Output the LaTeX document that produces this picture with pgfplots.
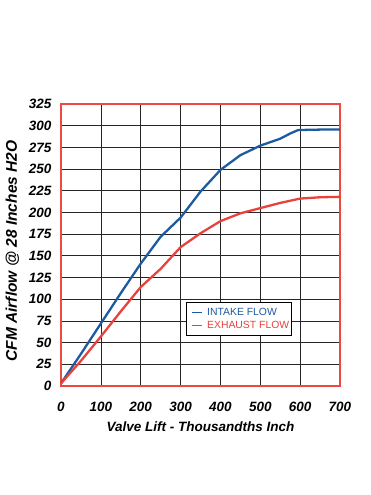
\documentclass[border=0pt]{standalone}
\usepackage{pgfplots}
\pgfplotsset{compat=1.18}
\usepackage{fontspec}
\setmainfont{Liberation Sans}
\definecolor{intake}{HTML}{1D5A9E}
\definecolor{exhaust}{HTML}{E8423C}
\definecolor{frame}{HTML}{EA4A40}
\begin{document}
\begin{tikzpicture}
\useasboundingbox (-61bp,-109bp) rectangle (310bp,386bp);
\begin{axis}[
  scale only axis,
  width=279bp, height=282bp,
  anchor=south west, at={(0,0)},
  xmin=0, xmax=700, ymin=0, ymax=325,
  xtick={0,100,...,700}, ytick={0,25,...,325},
  grid=major,
  major grid style={black!85, line width=0.7pt},
  major tick length=0pt,
  axis line style={frame, line width=2.8pt},
  ticklabel style={font=\fontsize{13.5bp}{15bp}\selectfont\bfseries\itshape},
  /pgf/number format/assume math mode=true,
  xticklabel style={yshift=-13bp},
  yticklabel style={xshift=-6bp},
  xlabel={Valve Lift - Thousandths Inch},
  ylabel={CFM Airflow @ 28 Inches H2O},
  xlabel style={font=\fontsize{13.5bp}{15bp}\selectfont\bfseries\itshape, yshift=-3bp},
  ylabel style={font=\fontsize{15.5bp}{17bp}\selectfont\bfseries\itshape, yshift=3bp, xshift=-6bp},
  legend style={at={(0.448,0.298)}, anchor=north west, draw=black, line width=0.8pt,
    font=\fontsize{10.4bp}{12bp}\selectfont, inner xsep=0.5pt, inner ysep=3.5pt, row sep=0.5pt},
  legend cell align=left,
  legend image code/.code={\path (0bp,0bp) (16bp,0bp); \draw[#1, line width=0.6pt] (4bp,0bp) -- (14bp,0bp);},
]
\addplot[intake, line width=2.3pt, line join=round] coordinates {
(0,3) (50,37) (100,72) (150,107) (200,141) (250,172) (300,194) (350,224) (400,249) (450,266) (500,277) (550,285) (575,291) (595,295) (650,295.5) (700,295.5)
};
\addlegendentry{\textcolor{intake}{INTAKE FLOW}}
\addplot[exhaust, line width=2.3pt, line join=round] coordinates {
(0,3) (50,29) (100,57) (150,86) (200,114) (250,135) (300,160) (350,176) (400,190) (450,199) (500,205) (550,211) (600,216) (650,217.5) (700,218)
};
\addlegendentry{\textcolor{exhaust}{EXHAUST FLOW}}
\end{axis}
\end{tikzpicture}
\end{document}
